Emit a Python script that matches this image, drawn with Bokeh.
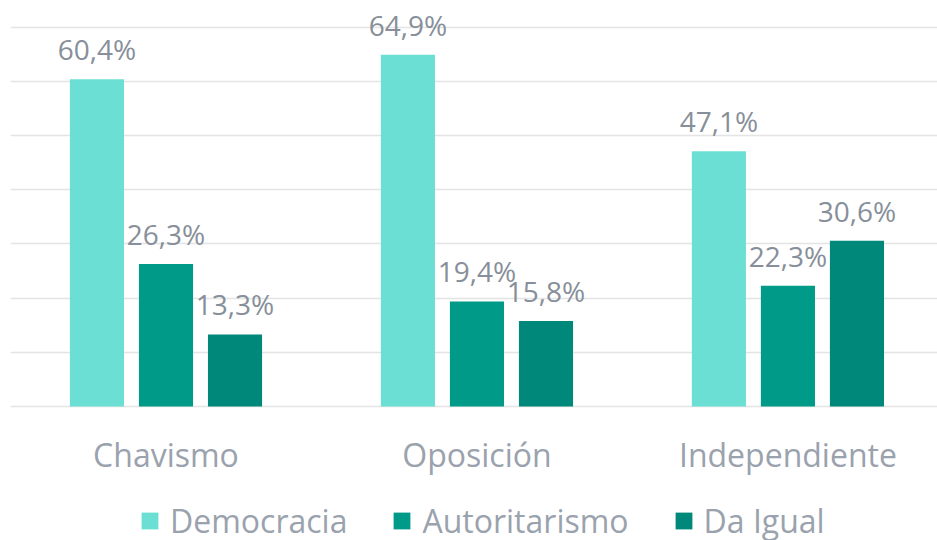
from bokeh.plotting import figure
from bokeh.models import Range1d, FixedTicker, Legend, LegendItem, ColumnDataSource
from bokeh.transform import dodge
from bokeh.core.properties import value
from bokeh.embed import file_html
from bokeh.resources import INLINE

categories = ["Chavismo", "Oposición", "Independiente"]
series = ["Democracia", "Autoritarismo", "Da Igual"]
democracia = [60.4, 64.9, 47.1]
autoritarismo = [26.3, 19.4, 22.3]
da_igual = [13.3, 15.8, 30.6]
colors = ["#6BDFD3", "#009A88", "#00897A"]
grid_ticks = [0, 10, 20, 30, 40, 50, 60, 70]


def fmt(v):
    return f"{v:.1f}%".replace(".", ",")


x = list(range(len(categories)))
src = ColumnDataSource(dict(
    x=x,
    cat=categories,
    cat_y=[-8.85] * len(categories),
    dem=democracia, aut=autoritarismo, dai=da_igual,
    dem_l=[fmt(v) for v in democracia],
    aut_l=[fmt(v) for v in autoritarismo],
    dai_l=[fmt(v) for v in da_igual],
))

FONT = "Open Sans"
LABEL_COLOR = "#878F9A"
AXIS_COLOR = "#9AA2AD"

p = figure(width=937, height=540, output_backend="svg", toolbar_location=None,
           x_range=Range1d(-0.5, 2.481), y_range=Range1d(-24.72, 74.93),
           min_border_left=10, min_border_right=0, min_border_top=0,
           min_border_bottom=0)
p.outline_line_color = None
p.background_fill_color = "white"
p.border_fill_color = "white"
p.xaxis.visible = False
p.yaxis.visible = False
p.xgrid.visible = False
p.ygrid.ticker = FixedTicker(ticks=grid_ticks)
p.ygrid.grid_line_color = "#E4E4E4"
p.ygrid.grid_line_width = 1.5

# category labels (x axis)
p.text(x="x", y="cat_y", text="cat", source=src,
       text_align="center", text_baseline="alphabetic",
       text_font=value(FONT), text_font_size="32px", text_color=AXIS_COLOR)

offsets = [-0.222, 0.0, 0.222]
fields = ["dem", "aut", "dai"]
renderers = []
for off, f, c in zip(offsets, fields, colors):
    r = p.vbar(x=dodge("x", off), top=f, width=0.174, source=src,
               fill_color=c, line_color=None)
    renderers.append(r)
    p.text(x=dodge("x", off), y=f, text=f + "_l", source=src,
           text_align="center", text_baseline="alphabetic", y_offset=-30,
           text_font=value(FONT), text_font_size="28px", text_color=LABEL_COLOR)

legend = Legend(items=[LegendItem(label=s, renderers=[r]) for s, r in zip(series, renderers)],
                orientation="horizontal", location=(129, -2),
                glyph_width=21, glyph_height=21, label_standoff=10, spacing=44,
                padding=0, margin=0, border_line_color=None,
                background_fill_alpha=0,
                label_text_font=FONT, label_text_font_size="32px",
                label_text_color=AXIS_COLOR)
p.add_layout(legend, "center")

open("out.html", "w").write(file_html(p, INLINE))
